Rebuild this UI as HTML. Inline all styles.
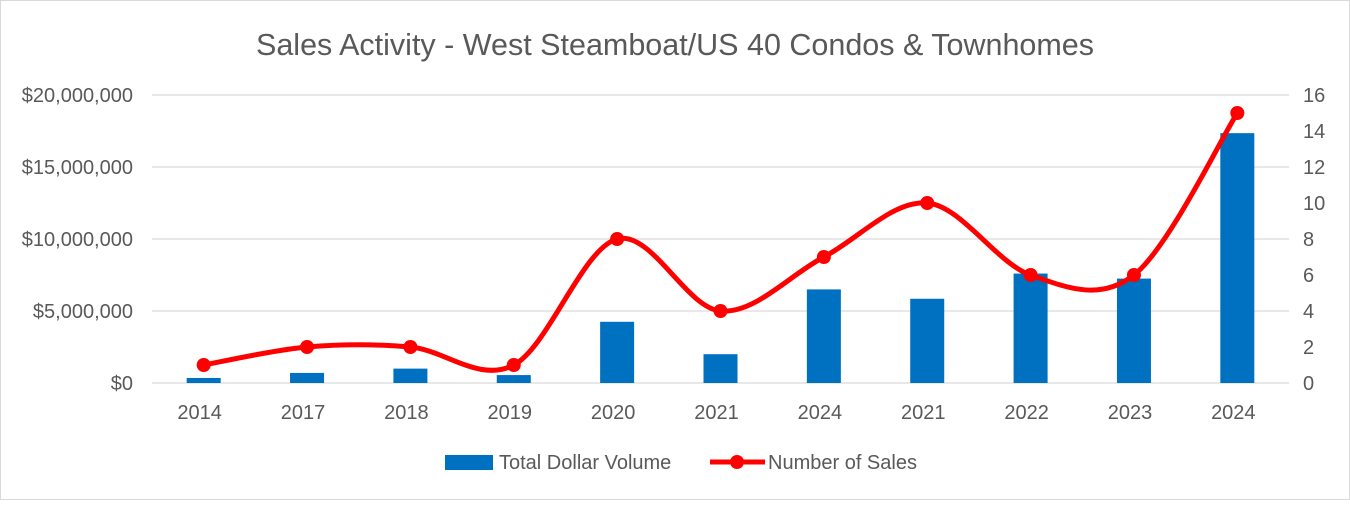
<!DOCTYPE html>
<html><head><meta charset="utf-8"><style>
body{margin:0;background:#fff;font-family:"Liberation Sans",Arial,sans-serif;}
svg text{font-family:"Liberation Sans",Arial,sans-serif;fill:#595959;}
</style></head><body>
<svg id="chart" width="1350" height="500" viewBox="0 0 1350 500">
<rect x="0.5" y="0.5" width="1349" height="499" fill="#fff" stroke="#d9d9d9"/>
<text x="675" y="55" text-anchor="middle" font-size="30.5">Sales Activity - West Steamboat/US 40 Condos &amp; Townhomes</text>
<g id="grid"></g><g id="bars"></g><g id="line"></g><g id="axes"></g>
<g>
<rect x="445" y="455" width="48" height="15" fill="#0070c0"/>
<text x="499" y="469" font-size="20">Total Dollar Volume</text>
<line x1="710" y1="462" x2="765" y2="462" stroke="#ff0000" stroke-width="5"/>
<circle cx="737" cy="462" r="7" fill="#ff0000"/>
<text x="768" y="469" font-size="20">Number of Sales</text>
</g>
</svg>
<script>
const categories=["2014","2017","2018","2019","2020","2021","2024","2021","2022","2023","2024"];
const volume=[350000,700000,1000000,550000,4250000,2000000,6500000,5850000,7600000,7250000,17350000];
const sales=[1,2,2,1,8,4,7,10,6,6,15];
const leftTicks=[0,5000000,10000000,15000000,20000000];
const leftTickLabels=["$0","$5,000,000","$10,000,000","$15,000,000","$20,000,000"];
const rightTicks=[0,2,4,6,8,10,12,14,16];

const NS="http://www.w3.org/2000/svg";
const L=152,R=1289,T=95,B=383;
const step=(R-L)/categories.length;
const xC=i=>L+step*(i+0.5);
const yL=v=>B-(v/20000000)*(B-T);
const yR=v=>B-(v/16)*(B-T);
function mk(tag,attrs,parent){const e=document.createElementNS(NS,tag);for(const k in attrs)e.setAttribute(k,attrs[k]);document.getElementById(parent).appendChild(e);return e;}

leftTicks.forEach((v,i)=>{
 const g=mk('line',{x1:L,x2:R,y1:yL(v),y2:yL(v),stroke:'#d9d9d9','stroke-width':1.3},'grid');
 
 
 const t=mk('text',{x:133,y:yL(v)+7,'text-anchor':'end','font-size':20},'axes');
 t.textContent=leftTickLabels[i];
 
 
});
rightTicks.forEach(v=>{
 const t=mk('text',{x:1303,y:yR(v)+7,'text-anchor':'start','font-size':20},'axes');
 t.textContent=v;
 
 
});
categories.forEach((c,i)=>{
 const t=mk('text',{x:xC(i)-4,y:419,'text-anchor':'middle','font-size':20},'axes');
 t.textContent=c;
 
 
});
volume.forEach((v,i)=>{
 const bw=34;
 const r=mk('rect',{x:xC(i)-bw/2,y:yL(v),width:bw,height:B-yL(v),fill:'#0070c0'},'bars');
 
 
});
const pts=sales.map((v,i)=>[xC(i),yR(v)]);
let d=`M${pts[0][0]},${pts[0][1]}`;
for(let i=0;i<pts.length-1;i++){
 const p0=pts[Math.max(0,i-1)],p1=pts[i],p2=pts[i+1],p3=pts[Math.min(pts.length-1,i+2)];
 const c1=[p1[0]+(p2[0]-p0[0])/6,p1[1]+(p2[1]-p0[1])/6];
 const c2=[p2[0]-(p3[0]-p1[0])/6,p2[1]-(p3[1]-p1[1])/6];
 d+=` C${c1[0]},${c1[1]} ${c2[0]},${c2[1]} ${p2[0]},${p2[1]}`;
}
const path=mk('path',{d:d,fill:'none',stroke:'#ff0000','stroke-width':5,'stroke-linejoin':'round'},'line');


pts.forEach(p=>{
 const c=mk('circle',{cx:p[0],cy:p[1],r:7,fill:'#ff0000'},'line');
 
 
});
</script>
</body></html>
